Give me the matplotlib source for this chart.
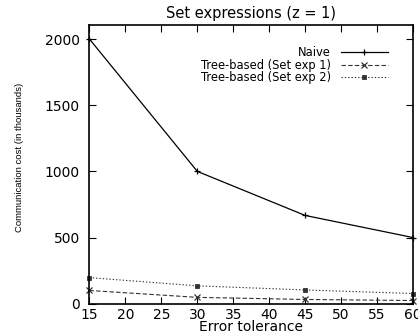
import matplotlib
matplotlib.use("Agg")
import matplotlib.pyplot as plt
from matplotlib.ticker import MultipleLocator

error_tolerance = [15, 30, 45, 60]
naive = [2000, 1000, 667, 500]
tree_exp1 = [100, 48, 32, 24]
tree_exp2 = [197, 135, 104, 77]

title = "Set expressions (z = 1)"
xlabel = "Error tolerance"
ylabel = "Communication cost (in thousands)"
labels = ["Naive", "Tree-based (Set exp 1)", "Tree-based (Set exp 2)"]

plt.rcParams['font.family'] = ['DejaVu Sans']

fig = plt.figure(figsize=(4.18, 3.34), dpi=100)
ax = fig.add_axes([0.214, 0.0907, 0.774, 0.834])

ax.plot(error_tolerance, naive, color='black', lw=0.9, ls='-', marker='+',
        ms=5, mew=0.9, label=labels[0], clip_on=False)
ax.plot(error_tolerance, tree_exp1, color='#333333', lw=0.8, ls=(0, (4, 2)), marker='x',
        ms=4, mew=0.9, label=labels[1], clip_on=False)
ax.plot(error_tolerance, tree_exp2, color='#333333', lw=0.8, ls=(0, (1.2, 1.8)), marker='s',
        ms=3, mew=0.6, label=labels[2], clip_on=False)

ax.set_xlim(15, 60)
ax.set_ylim(0, 2105)
ax.xaxis.set_major_locator(MultipleLocator(5))
ax.yaxis.set_major_locator(MultipleLocator(500))
ax.tick_params(direction='in', length=5, width=0.8, top=True, right=True,
               labelsize=10)
ax.tick_params(axis='x', pad=3)
ax.tick_params(axis='y', pad=7)
for s in ax.spines.values():
    s.set_linewidth(1.2)

ax.set_title(title, fontsize=10.5, pad=5)
ax.set_xlabel(xlabel, fontsize=10, labelpad=-1)
ax.set_ylabel(ylabel, fontsize=6.8, family=['Liberation Sans', 'DejaVu Sans'])
ax.yaxis.set_label_coords(-0.201, 0.526)

leg = ax.legend(loc='upper right', bbox_to_anchor=(0.923, 0.925), frameon=False,
                markerfirst=False, fontsize=8.3, handlelength=4.1, handletextpad=0.85,
                labelspacing=-0.03, borderaxespad=0, borderpad=0)

fig.savefig("out.png", dpi=100)
